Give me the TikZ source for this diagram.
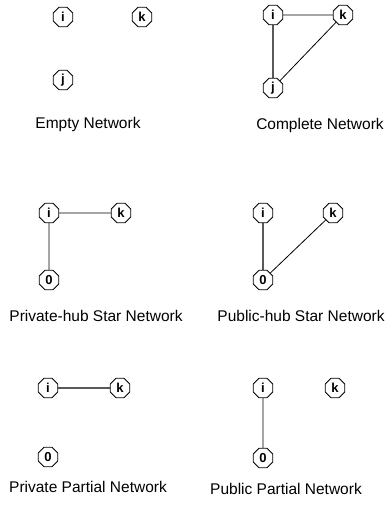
\documentclass[tikz,border=0pt]{standalone}
\usepackage{fontspec}
\setmainfont{Liberation Sans}
\usetikzlibrary{shapes.geometric}
\tikzset{
  agent/.style={draw, regular polygon, regular polygon sides=8, minimum size=21pt,
    inner sep=0pt, line width=0.8pt, font=\fontsize{13}{13}\selectfont\bfseries},
  link/.style={line width=0.8pt},
  caption/.style={font=\fontsize{15.5}{16}\selectfont}
}
\begin{document}
\begin{tikzpicture}[x=1pt,y=-1pt]
\useasboundingbox (0,0) rectangle (390,506);
% empty network
\node[agent] (ei) at (63,17) {i};
\node[agent] (ek) at (142,17) {k};
\node[agent] (ej) at (63,80) {j};
\node[caption] (ecap) at (88,124) {Empty Network};
% complete network
\node[agent] (ci) at (273,15) {i};
\node[agent] (ck) at (343,15) {k};
\node[agent] (cj) at (273,88) {j};
\draw[link] (ci)--(ck);
\draw[link, line width=1.3pt] (ci)--(cj);
\draw[link] (cj)--(ck);
\node[caption] (ccap) at (320,125) {Complete Network};
% private-hub star
\node[agent] (pi) at (49,213) {i};
\node[agent] (pk) at (121,213) {k};
\node[agent] (p0) at (49,280) {0};
\draw[link] (pi)--(pk);
\draw[link] (pi)--(p0);
\node[caption] (pcap) at (96,316) {Private-hub Star Network};
% public-hub star
\node[agent] (ui) at (263,213) {i};
\node[agent] (uk) at (333,213) {k};
\node[agent] (u0) at (263,280) {0};
\draw[link, line width=1.3pt] (ui)--(u0);
\draw[link] (u0)--(uk);
\node[caption] (ucap) at (301,316) {Public-hub Star Network};
% private partial
\node[agent] (qi) at (48,388) {i};
\node[agent] (qk) at (120,388) {k};
\node[agent] (q0) at (48,457) {0};
\draw[link, line width=1.3pt] (qi)--(qk);
\node[caption] (qcap) at (88,487) {Private Partial Network};
% public partial
\node[agent] (ri) at (263,388) {i};
\node[agent] (rk) at (335,388) {k};
\node[agent] (r0) at (263,458) {0};
\draw[link] (ri)--(r0);
\node[caption] (rcap) at (286,489) {Public Partial Network};
\end{tikzpicture}
\end{document}
